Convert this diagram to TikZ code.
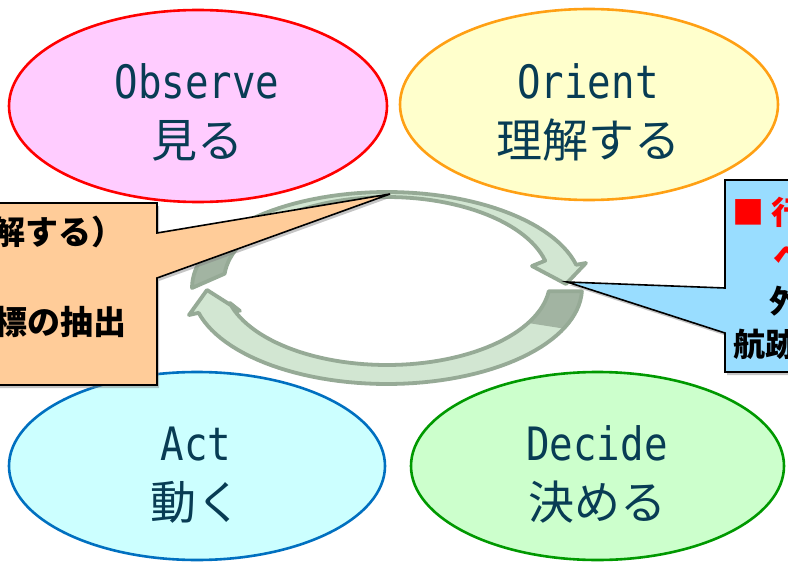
\documentclass[tikz,border=0pt]{standalone}
\usepackage{fontspec}
\newfontfamily\jp{Noto Sans CJK JP}
\newfontfamily\mono[FakeStretch=0.85]{DejaVu Sans Mono}
\usetikzlibrary{shapes.geometric,shadows}
\definecolor{txt}{RGB}{8,60,84}
\definecolor{obsline}{RGB}{255,0,0}
\definecolor{obsfill}{RGB}{255,204,255}
\definecolor{oriline}{RGB}{255,160,20}
\definecolor{orifill}{RGB}{255,255,204}
\definecolor{actline}{RGB}{0,112,192}
\definecolor{actfill}{RGB}{204,255,255}
\definecolor{decline}{RGB}{0,153,0}
\definecolor{decfill}{RGB}{204,255,204}
\definecolor{arrline}{RGB}{150,170,150}
\definecolor{arrlight}{RGB}{210,230,210}
\definecolor{arrdark}{RGB}{162,180,162}
\definecolor{peach}{RGB}{255,204,153}
\definecolor{skyb}{RGB}{153,221,255}
\tikzset{
  ell/.style={ellipse, line width=2.6pt, inner sep=0pt},
  lat/.style={font=\mono\fontsize{46}{50}\selectfont, text=txt, inner sep=0pt, anchor=base},
  jpn/.style={font=\jp\fontsize{46}{50}\selectfont, text=txt, inner sep=0pt, anchor=base},
  arrbody/.style={fill=arrlight},
  arredge/.style={draw=arrline, line width=3.8pt, line join=round},
  callout/.style={draw=black, line width=1.6pt, line join=miter,
     drop shadow={shadow xshift=2pt, shadow yshift=-3pt, opacity=0.45}},
  cjkb/.style={font=\jp\bfseries\fontsize{33}{40}\selectfont, inner sep=0pt, anchor=base west},
}
\begin{document}
\begin{tikzpicture}[x=1pt,y=-1pt]
\useasboundingbox (0,0) rectangle (788,562);
\clip (0,0) rectangle (788,562);
\fill[white] (0,0) rectangle (788,562);

% ellipses
\node[ell, draw=obsline, fill=obsfill, minimum width=378pt, minimum height=192pt] (obs) at (198,106) {};
\node[ell, draw=oriline, fill=orifill, minimum width=378pt, minimum height=191pt] (ori) at (589,104.5) {};
\node[ell, draw=actline, fill=actfill, minimum width=376pt, minimum height=188pt] (act) at (197,466) {};
\node[ell, draw=decline, fill=decfill, minimum width=373pt, minimum height=188pt] (dec) at (597.5,466) {};

\node[lat] (obsA) at (197,98) {Observe};
\node[jpn] (obsB) at (197,157) {見る};
\node[lat] (oriA) at (588,98) {Orient};
\node[jpn] (oriB) at (588,157) {理解する};
\node[lat] (actA) at (196,460) {Act};
\node[jpn] (actB) at (196,519) {動く};
\node[lat] (decA) at (597,460) {Decide};
\node[jpn] (decB) at (597,519) {決める};

% cycle arrows
\coordinate (tipR) at (566,284);
\coordinate (tipLf) at (207,290);
% top arrow
\path[arrbody] plot[domain=180:14,samples=60] ({387+195*cos(\x)},{288-96*sin(\x)})
   -- (586,263) -- (tipR) -- (532,266)
   -- plot[domain=14:175,samples=60] ({387+163*cos(\x)},{281-84*sin(\x)}) -- cycle;
\fill[arrdark] plot[domain=180:160,samples=20] ({387+195*cos(\x)},{288-96*sin(\x)})
   -- plot[domain=155:175,samples=20] ({387+163*cos(\x)},{281-84*sin(\x)}) -- cycle;
\path[arredge] plot[domain=180:14,samples=60] ({387+195*cos(\x)},{288-96*sin(\x)})
   -- (586,263) -- (tipR) -- (532,266)
   -- plot[domain=14:175,samples=60] ({387+163*cos(\x)},{281-84*sin(\x)}) -- cycle;
% bottom arrow
\path[arrbody] plot[domain=358:195,samples=60] ({387+195*cos(\x)},{288-96*sin(\x)})
   -- (189,315) -- (tipLf) -- (240,311)
   -- plot[domain=195:353,samples=60] ({387+163*cos(\x)},{281-84*sin(\x)}) -- cycle;
\fill[arrdark] plot[domain=358:335,samples=20] ({387+195*cos(\x)},{288-96*sin(\x)})
   -- plot[domain=330:353,samples=20] ({387+163*cos(\x)},{281-84*sin(\x)}) -- cycle;
\path[arredge] plot[domain=358:195,samples=60] ({387+195*cos(\x)},{288-96*sin(\x)})
   -- (189,315) -- (tipLf) -- (240,311)
   -- plot[domain=195:353,samples=60] ({387+163*cos(\x)},{281-84*sin(\x)}) -- cycle;

% left callout
\coordinate (tipL) at (390,194);
\path[callout, fill=peach] (-20,203) -- (157,203) -- (157,233) -- (tipL) -- (157,278)
   -- (157,385) -- (-20,385) -- cycle;
\node[cjkb] (l1) at (-8,244) {解する）};
\node[cjkb] (l2) at (-6,334) {標の抽出};

% right callout
\coordinate (tipB) at (567,282);
\path[callout, fill=skyb] (725,180) -- (810,180) -- (810,372) -- (725,372) -- (725,333)
   -- (tipB) -- (725,288) -- cycle;
\node[cjkb, text=red, font=\jp\bfseries\fontsize{32}{40}\selectfont] (r1) at (732,224) {■ 行};
\node[cjkb, text=red, font=\jp\bfseries\fontsize{32}{40}\selectfont] (r2) at (773,268) {へ};
\node[cjkb, font=\jp\bfseries\fontsize{32}{40}\selectfont] (r3) at (769,313) {外};
\node[cjkb, font=\jp\bfseries\fontsize{32}{40}\selectfont] (r4) at (733,356) {航跡};
\end{tikzpicture}
\end{document}
